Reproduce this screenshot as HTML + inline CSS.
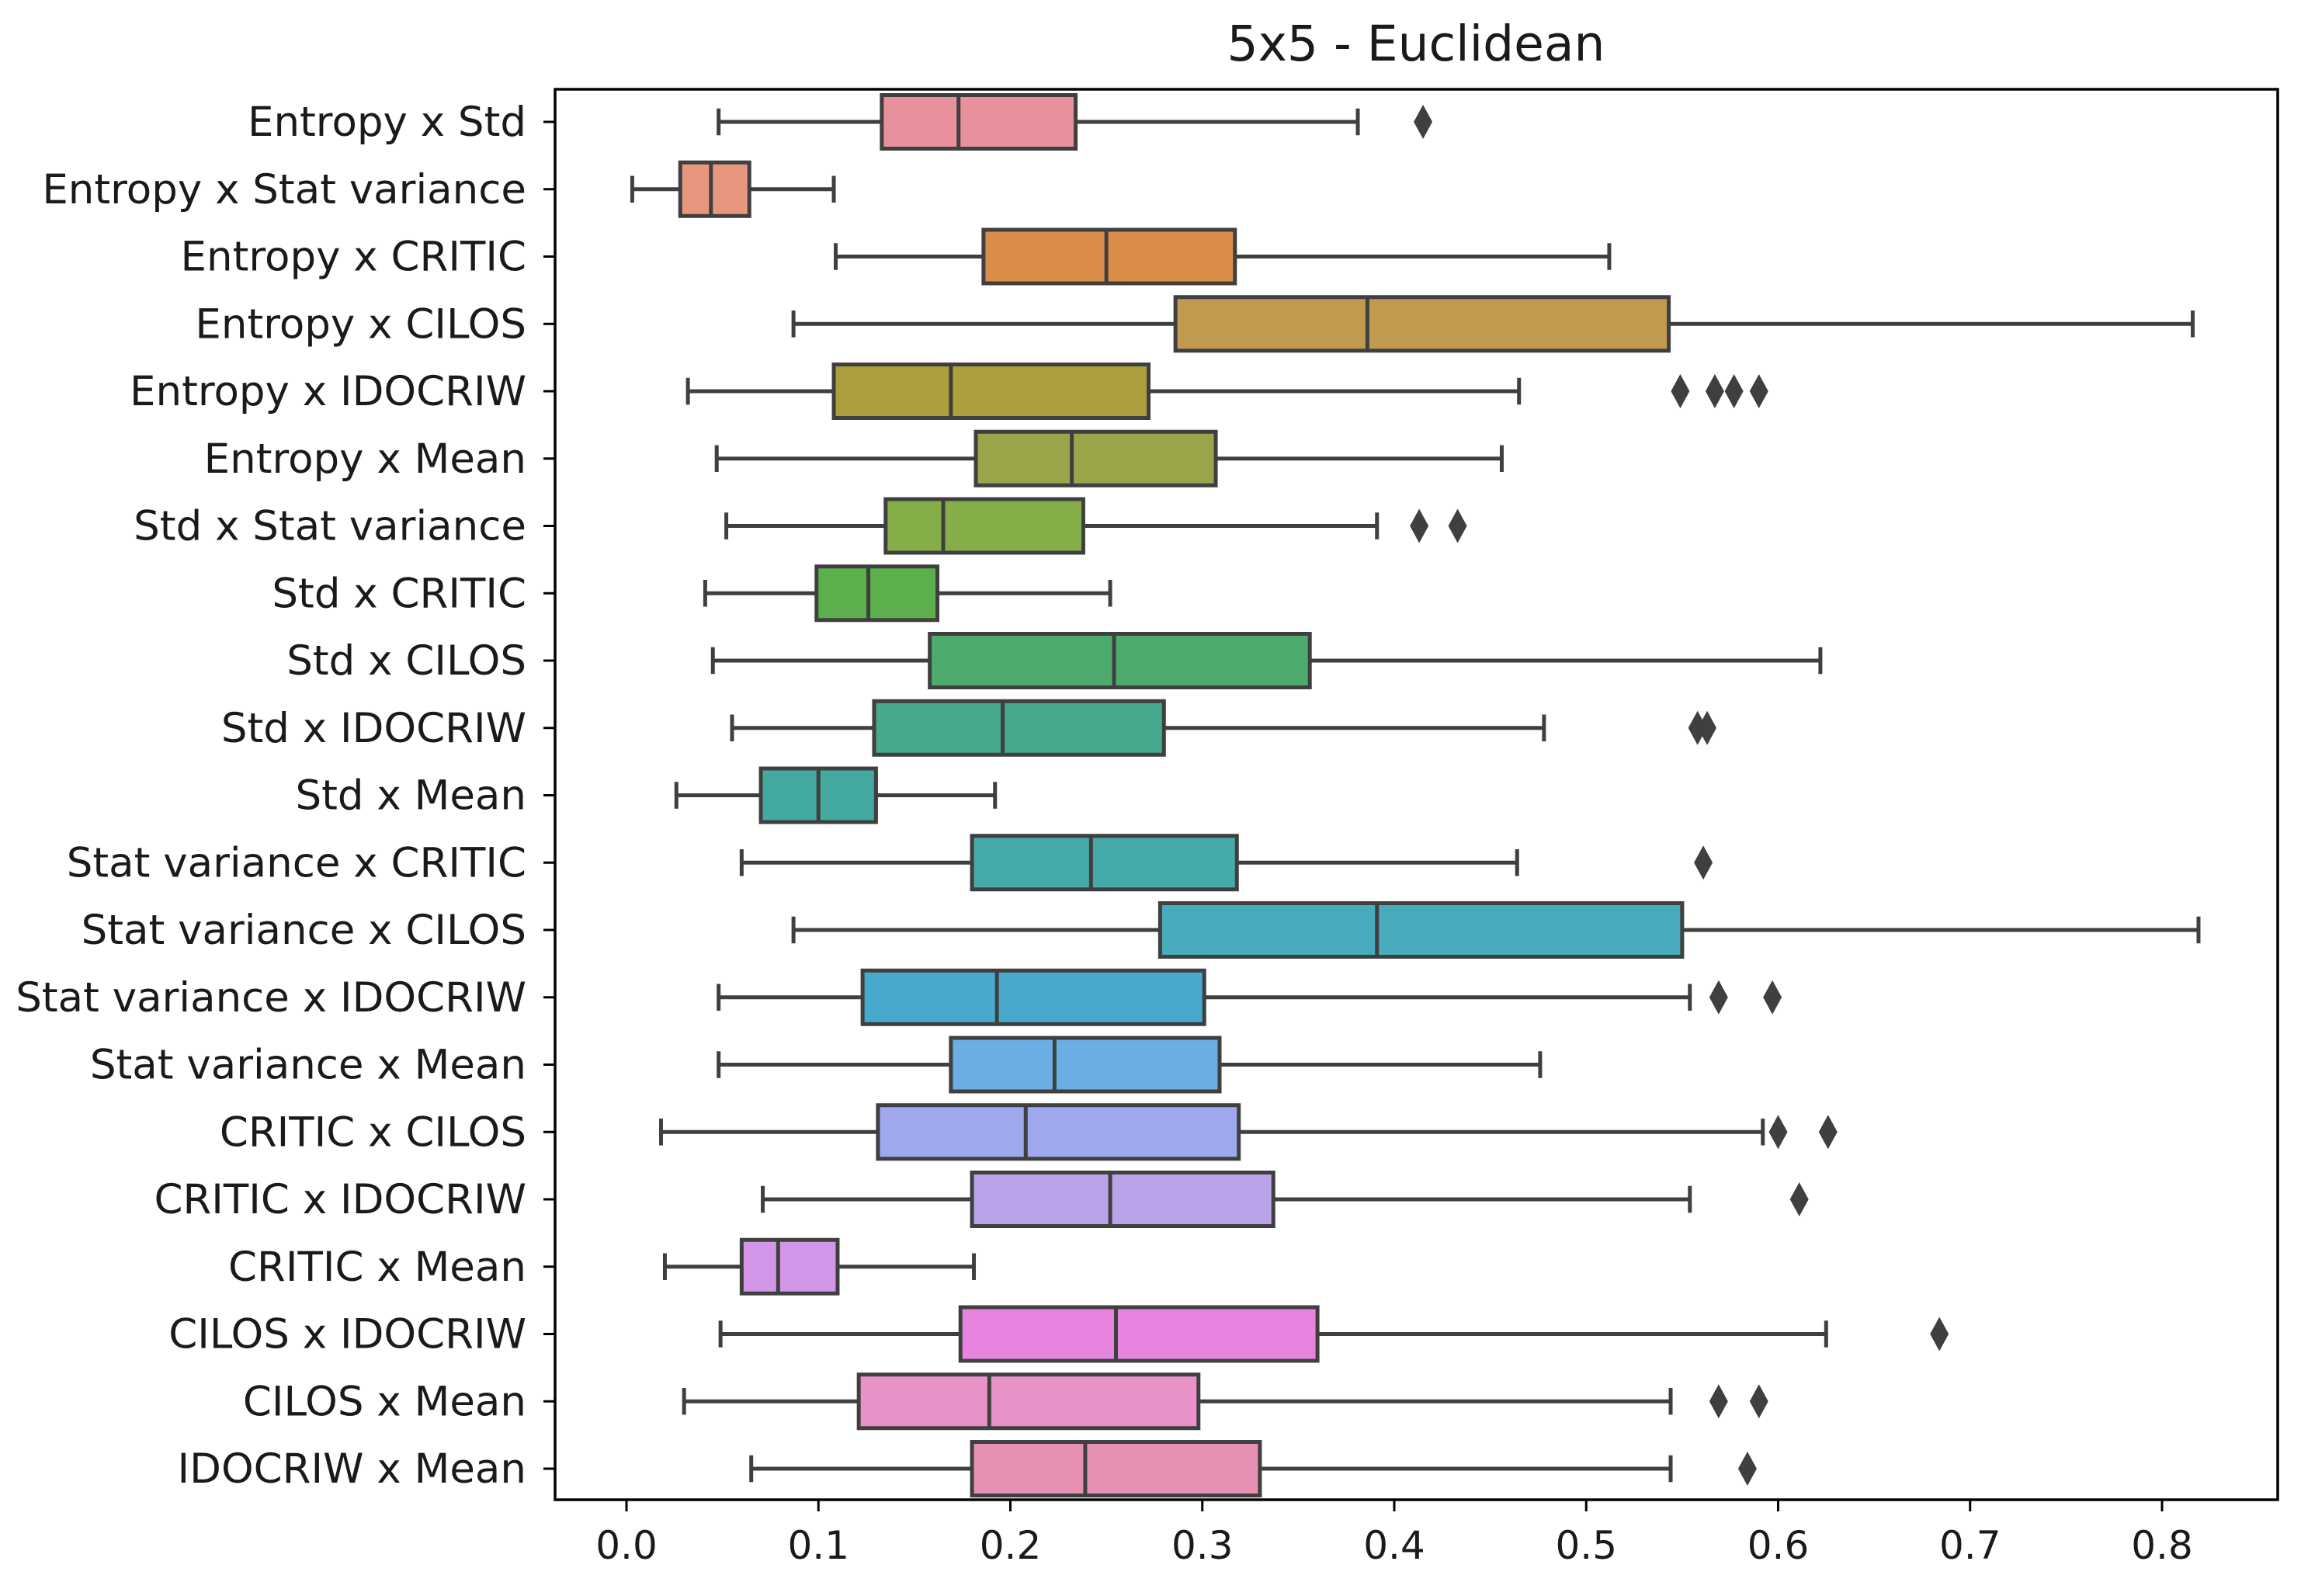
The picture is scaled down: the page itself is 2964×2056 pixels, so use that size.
<!DOCTYPE html>
<html><head><meta charset="utf-8"><style>
html,body{margin:0;padding:0;background:#fff;}
svg{display:block;}
text{font-family:"DejaVu Sans","Liberation Sans",sans-serif;fill:#1a1a1a;}
</style></head><body>
<svg id="chart" width="2964" height="2056" viewBox="0 0 2964 2056" xmlns="http://www.w3.org/2000/svg">
<rect x="0" y="0" width="2964" height="2056" fill="#fff"/>
<text x="1824" y="78" text-anchor="middle" font-size="63">5x5 - Euclidean</text>
<g id="plot"></g>
<rect x="715" y="115" width="2219" height="1817" fill="none" stroke="#000" stroke-width="3.5"/>
</svg>
<script>
const categories = ["Entropy x Std","Entropy x Stat variance","Entropy x CRITIC","Entropy x CILOS","Entropy x IDOCRIW","Entropy x Mean","Std x Stat variance","Std x CRITIC","Std x CILOS","Std x IDOCRIW","Std x Mean","Stat variance x CRITIC","Stat variance x CILOS","Stat variance x IDOCRIW","Stat variance x Mean","CRITIC x CILOS","CRITIC x IDOCRIW","CRITIC x Mean","CILOS x IDOCRIW","CILOS x Mean","IDOCRIW x Mean"];
const whiskerLow = [0.048,0.003,0.109,0.087,0.032,0.047,0.052,0.041,0.045,0.055,0.026,0.060,0.087,0.048,0.048,0.018,0.071,0.020,0.049,0.030,0.065];
const q1 = [0.133,0.028,0.186,0.286,0.108,0.182,0.135,0.099,0.158,0.129,0.070,0.180,0.278,0.123,0.169,0.131,0.180,0.060,0.174,0.121,0.180];
const median = [0.173,0.044,0.250,0.386,0.169,0.232,0.165,0.126,0.254,0.196,0.100,0.242,0.391,0.193,0.223,0.208,0.252,0.079,0.255,0.189,0.239];
const q3 = [0.234,0.064,0.317,0.543,0.272,0.307,0.238,0.162,0.356,0.280,0.130,0.318,0.550,0.301,0.309,0.319,0.337,0.110,0.360,0.298,0.330];
const whiskerHigh = [0.381,0.108,0.512,0.816,0.465,0.456,0.391,0.252,0.622,0.478,0.192,0.464,0.819,0.554,0.476,0.592,0.554,0.181,0.625,0.544,0.544];
const outliers = [[0.415],[],[],[],[0.549,0.567,0.577,0.590],[],[0.413,0.433],[],[],[0.558,0.563],[],[0.561],[],[0.569,0.597],[],[0.600,0.626],[0.611],[],[0.684],[0.569,0.590],[0.584]];
const xTicks = [0.0,0.1,0.2,0.3,0.4,0.5,0.6,0.7,0.8];
const xTickLabels = ["0.0","0.1","0.2","0.3","0.4","0.5","0.6","0.7","0.8"];
const colors = ["#e8909c","#e8977f","#d98d48","#c09a4e","#aca03c","#9aa549","#85ae48","#5bb04b","#4eab6e","#46a88c","#44a99e","#45aaa8","#47abbb","#48a9cf","#6aaee5","#9fa8ec","#bba3e9","#d396e8","#e784df","#e892c7","#e691b4"];

const NS="http://www.w3.org/2000/svg";
const X0=807, PX=(2785-807)/0.8;
function xs(v){return X0+v*PX;}
function ys(i){return 157+i*86.75;}
const g=document.getElementById('plot');
const LC="#3f3f3f", LW=5, BH=69;
function mk(tag,attrs,parent){const e=document.createElementNS(NS,tag);for(const k in attrs)e.setAttribute(k,attrs[k]);(parent||g).appendChild(e);return e;}

xTicks.forEach((t,i)=>{
  const l=mk('line',{x1:xs(t),x2:xs(t),y1:1932,y2:1947,stroke:'#000','stroke-width':3});
  
  
  const tx=mk('text',{x:xs(t),y:2008,'text-anchor':'middle','font-size':50});
  tx.textContent=xTickLabels[i];
  
  
});

categories.forEach((c,i)=>{
  const y=ys(i);
  const grp=mk('g',{});
  
  
  const tk=mk('line',{x1:700,x2:715,y1:y,y2:y,stroke:'#000','stroke-width':3},grp);
  
  
  const lb=mk('text',{x:678,y:y+18,'text-anchor':'end','font-size':53},grp);
  lb.textContent=c;
  
  
  const w1=mk('line',{x1:xs(whiskerLow[i]),x2:xs(q1[i]),y1:y,y2:y,stroke:LC,'stroke-width':LW},grp);
  
  
  const w2=mk('line',{x1:xs(q3[i]),x2:xs(whiskerHigh[i]),y1:y,y2:y,stroke:LC,'stroke-width':LW},grp);
  
  
  const c1=mk('line',{x1:xs(whiskerLow[i]),x2:xs(whiskerLow[i]),y1:y-BH/4,y2:y+BH/4,stroke:LC,'stroke-width':LW},grp);
  
  
  const c2=mk('line',{x1:xs(whiskerHigh[i]),x2:xs(whiskerHigh[i]),y1:y-BH/4,y2:y+BH/4,stroke:LC,'stroke-width':LW},grp);
  
  
  const b=mk('rect',{x:xs(q1[i]),y:y-BH/2,width:xs(q3[i])-xs(q1[i]),height:BH,fill:colors[i],stroke:LC,'stroke-width':LW},grp);
  
  
  const m=mk('line',{x1:xs(median[i]),x2:xs(median[i]),y1:y-BH/2,y2:y+BH/2,stroke:LC,'stroke-width':LW},grp);
  
  
  outliers[i].forEach(v=>{
    const x=xs(v);
    const d=mk('polygon',{points:`${x},${y-22} ${x+12},${y} ${x},${y+22} ${x-12},${y}`,fill:LC},grp);
    
    
  });
});
</script>
</body></html>
